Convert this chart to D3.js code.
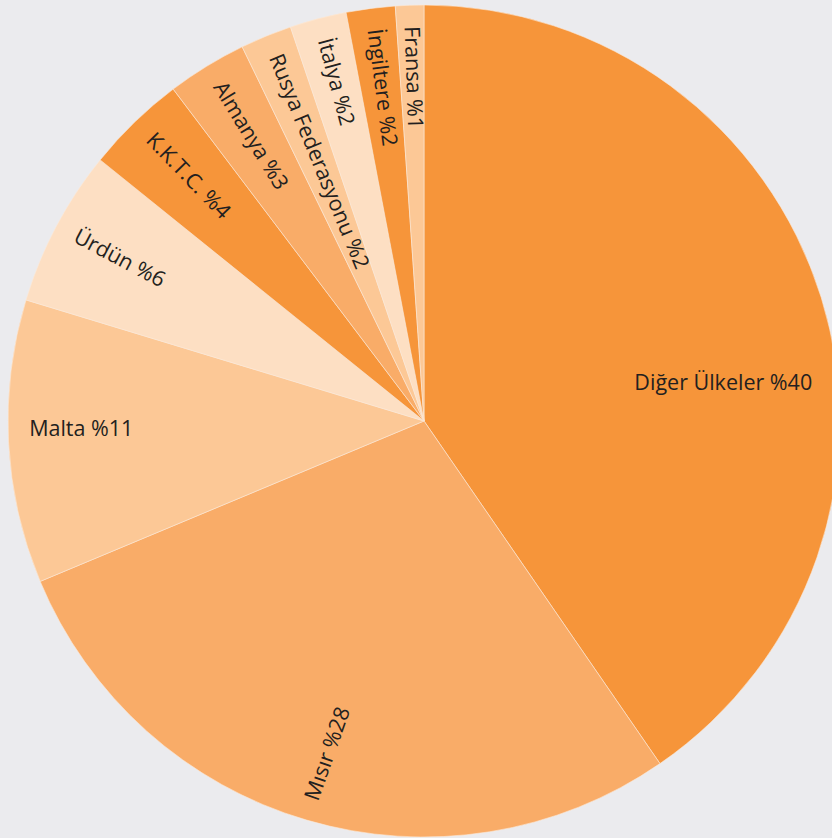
<!DOCTYPE html>
<html><head><meta charset="utf-8">
<script src="https://cdn.jsdelivr.net/npm/d3@7"></script>
<style>html,body{margin:0;padding:0;background:#ebebee;overflow:hidden}</style>
</head><body>
<svg id="c" width="832" height="838"></svg>
<script>
const countries = ["Diğer Ülkeler","Mısır","Malta","Ürdün","K.K.T.C.","Almanya","Rusya Federasyonu","İtalya","İngiltere","Fransa"];
const shares = [40.4, 28.3, 11.0, 6.1, 3.9, 3.1, 2.0, 2.2, 1.9, 1.1];
const labelPct = ["%40","%28","%11","%6","%4","%3","%2","%2","%2","%1"];
const colors = ["#f6953a","#f9ac68","#fcc896","#fddfc3","#f6953a","#f9ac68","#fcc896","#fddfc3","#f6953a","#fcc896"];

const cx = 424, cy = 421, R = 416, rLabel = 395;
const svg = d3.select("#c");
const g = svg.append("g").attr("transform", `translate(${cx},${cy})`);
const pie = d3.pie().sort(null).value(d => d)(shares);
const arc = d3.arc().innerRadius(0).outerRadius(R);
g.selectAll("path").data(pie).join("path")
  .attr("d", arc).attr("fill", (d,i) => colors[i])
  .attr("stroke", "#fbe9d8").attr("stroke-width", 0.6);

const deg = a => a * 180 / Math.PI;
g.selectAll("text").data(pie).join("text")
  .attr("font-family", "'Open Sans', 'Noto Sans', sans-serif")
  .attr("font-size", 21.5)
  .attr("fill", "#231f20")
  .attr("dominant-baseline", "middle")
  .each(function(d, i) {
    const t = d3.select(this);
    const mid = (d.startAngle + d.endAngle) / 2;
    const txt = countries[i] + " " + labelPct[i];
    t.text(txt);
    if (i === 0) {
      const a = mid + 0.206;
      const x = Math.sin(a) * 390, y = -Math.cos(a) * 390;
      t.attr("text-anchor", "end").attr("x", x).attr("y", y);
    } else if (i === 2) {
      const a = mid + 0.026;
      const x = Math.sin(a) * rLabel, y = -Math.cos(a) * rLabel;
      t.attr("text-anchor", "start").attr("x", x).attr("y", y);
    } else {
      const x = Math.sin(mid) * rLabel, y = -Math.cos(mid) * rLabel;
      const rot = deg(mid) - 270 + (i === 1 ? 3 : 0);
      t.attr("text-anchor", "start")
       .attr("transform", `translate(${x},${y}) rotate(${rot})`);
    }
  });
</script>
</body></html>
